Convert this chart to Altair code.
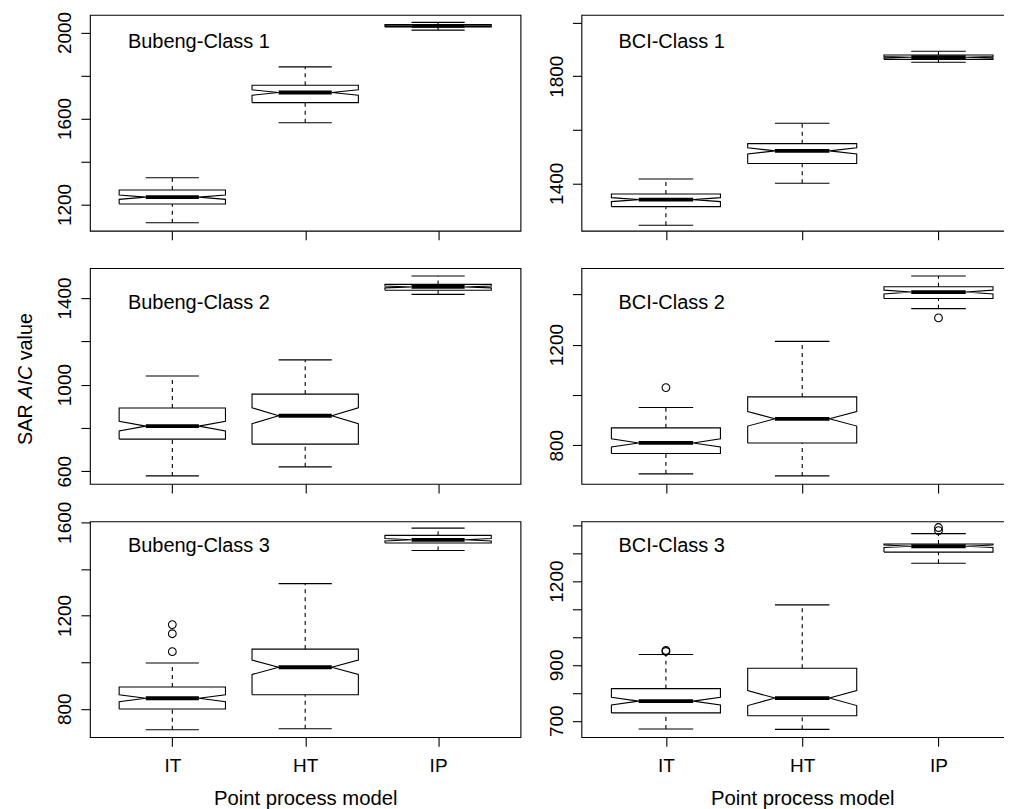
import json
import math
import altair as alt
import pandas as pd

# ---------------- data ----------------
panels = ["Bubeng-Class 1", "BCI-Class 1", "Bubeng-Class 2",
          "BCI-Class 2", "Bubeng-Class 3", "BCI-Class 3"]
models = ["IT", "HT", "IP"]
n_obs = 100  # simulations per model (sets notch width, R: 1.58*IQR/sqrt(n))

lower_whisker = [[1115, 1580, 2011], [1243, 1400, 1852], [578, 620, 1417],
                 [686, 678, 1343], [710, 714, 1479], [670, 669, 1264]]
lower_hinge = [[1202, 1674, 2026], [1313, 1474, 1863], [748, 725, 1436],
               [767, 809, 1383], [799, 860, 1511], [728, 718, 1304]]
medians = [[1234, 1721, 2031], [1339, 1521, 1871], [808, 856, 1451],
           [809, 905, 1409], [845, 978, 1525], [770, 781, 1325]]
upper_hinge = [[1267, 1755, 2037], [1360, 1548, 1879], [892, 956, 1463],
               [869, 992, 1430], [893, 1056, 1544], [815, 888, 1333]]
upper_whisker = [[1324, 1840, 2047], [1416, 1624, 1893], [1040, 1114, 1502],
                 [950, 1213, 1473], [996, 1337, 1575], [937, 1115, 1370]]
outlier_panel = [3, 3, 4, 4, 4, 5, 5, 5, 5]
outlier_model = [0, 2, 0, 0, 0, 0, 0, 2, 2]
outlier_value = [1029, 1306, 1161, 1122, 1045, 948, 952, 1392, 1381]

y_domains = [[1078, 2082], [1223, 2029], [541, 1538],
             [646, 1504], [678, 1604], [641, 1414]]
x_domain = [0.38, 3.62]
y_ticks = [[1200, 1400, 1600, 1800, 2000], [1400, 1600, 1800, 2000],
           [600, 800, 1000, 1200, 1400], [800, 1000, 1200, 1400],
           [800, 1000, 1200, 1400, 1600],
           [700, 800, 900, 1000, 1100, 1200, 1300, 1400]]
y_labels = [[1200, 1600, 2000], [1400, 1800], [600, 1000, 1400],
            [800, 1200], [800, 1200, 1600], [700, 900, 1200]]
x_title = "Point process model"
y_title_parts = ["SAR", "AIC", "value"]

# ---------------- styling ----------------
FONT = "Liberation Sans"
FS = 19
TFS = 20.3
YFS = 19.8
PH = 216
PANEL_W = [431, 442]   # right-hand panels run past the picture's right edge
label_y = [32.7, 32.7, 41, 40.7, 30.7, 30.7]
BOXW = 0.4
NOTCH = 0.5
STAPLE = 0.2


def panel(idx):
    row, col = idx // 2, idx % 2
    bottom = row == 2
    box_pts, whisk = [], []
    for i, m in enumerate(models):
        x = i + 1
        q1, md, q3 = lower_hinge[idx][i], medians[idx][i], upper_hinge[idx][i]
        half = 1.58 * (q3 - q1) / math.sqrt(n_obs)
        lo, hi = md - half, md + half
        xs_ = [x - BOXW, x + BOXW, x + BOXW, x + BOXW * NOTCH, x + BOXW, x + BOXW,
               x - BOXW, x - BOXW, x - BOXW * NOTCH, x - BOXW, x - BOXW]
        ys_ = [q1, q1, lo, md, hi, q3, q3, hi, md, lo, q1]
        for k, (a, b) in enumerate(zip(xs_, ys_)):
            box_pts.append({"model": m, "k": k, "x": a, "y": b})
        whisk.append({"model": m, "x": x, "xl": x - STAPLE, "xr": x + STAPLE,
                      "lw": lower_whisker[idx][i], "q1": q1, "med": md, "q3": q3,
                      "uw": upper_whisker[idx][i]})
    box_df = pd.DataFrame(box_pts)
    wdf = pd.DataFrame(whisk)
    out = [{"x": outlier_model[j] + 1, "v": outlier_value[j]}
           for j in range(len(outlier_value)) if outlier_panel[j] == idx]

    xscale = alt.Scale(domain=x_domain, nice=False, zero=False)
    yscale = alt.Scale(domain=y_domains[idx], nice=False, zero=False)
    xaxis = alt.Axis(values=[1, 2, 3],
                     labelExpr=json.dumps(models) + "[round(datum.value) - 1]",
                     labels=bottom, title=x_title if bottom else None,
                     tickSize=9, domain=False, grid=False, labelFontSize=FS,
                     labelPadding=10.6, titleFontSize=TFS, titleFontWeight="normal",
                     titlePadding=13, labelFlush=False, labelOverlap=False)
    yaxis = alt.Axis(values=y_ticks[idx], format="d",
                     labelExpr="indexof(" + json.dumps(y_labels[idx]) +
                               ", datum.value) >= 0 ? datum.label : ''",
                     labelAngle=270, labelAlign="center", labelBaseline="alphabetic",
                     labelPadding=10, tickSize=9, domain=False, grid=False,
                     labelFontSize=FS, title=None, labelFlush=False,
                     labelOverlap=False)

    def X(f):
        return alt.X(f, type="quantitative", scale=xscale, axis=xaxis)

    def Y(f):
        return alt.Y(f, type="quantitative", scale=yscale, axis=yaxis)

    layers = []
    layers.append(alt.Chart(box_df).mark_line(color="black", strokeWidth=1.1).encode(
        x=X("x"), y=Y("y"), detail="model:N", order="k:Q"))
    dash = [4, 4]
    layers.append(alt.Chart(wdf).mark_rule(color="black", strokeWidth=1.1, strokeDash=dash)
                  .encode(x=X("x"), y=Y("q3"), y2="uw"))
    layers.append(alt.Chart(wdf).mark_rule(color="black", strokeWidth=1.1, strokeDash=dash)
                  .encode(x=X("x"), y=Y("lw"), y2="q1"))
    layers.append(alt.Chart(wdf).mark_rule(color="black", strokeWidth=1.1)
                  .encode(x=X("xl"), x2="xr", y=Y("uw")))
    layers.append(alt.Chart(wdf).mark_rule(color="black", strokeWidth=1.1)
                  .encode(x=X("xl"), x2="xr", y=Y("lw")))
    layers.append(alt.Chart(wdf).mark_rule(color="black", strokeWidth=3.8)
                  .encode(x=X("xl"), x2="xr", y=Y("med")))
    if out:
        layers.append(alt.Chart(pd.DataFrame(out)).mark_point(
            shape="circle", filled=False, color="black", size=60, strokeWidth=1.1,
            opacity=1).encode(x=X("x"), y=Y("v")))
    layers.append(alt.Chart(pd.DataFrame({"t": [panels[idx]]})).mark_text(
        align="left", baseline="alphabetic", fontSize=20, font=FONT, color="black"
    ).encode(text="t:N", x=alt.value(38 if col == 0 else 37), y=alt.value(label_y[idx])))
    if idx == 2:
        sp = 0.278 * YFS
        w_sar = (0.667 + 0.667 + 0.722) * YFS
        w_aic = (0.667 + 0.278 + 0.722) * YFS
        y0 = 177
        ystarts = [y0, y0 - w_sar - sp, y0 - w_sar - sp - w_aic - sp]
        styles = ["normal", "italic", "normal"]
        for part, ys0, st in zip(y_title_parts, ystarts, styles):
            layers.append(alt.Chart(pd.DataFrame({"t": [part]})).mark_text(
                align="left", baseline="alphabetic", angle=270, fontSize=YFS,
                font=FONT, fontStyle=st, color="black"
            ).encode(text="t:N", x=alt.value(-58), y=alt.value(ys0)))
    return alt.layer(*layers).properties(width=PANEL_W[col], height=PH)


chart = alt.concat(*[panel(i) for i in range(6)], columns=2,
                   spacing={"row": 37.5, "column": 61}, bounds="flush") \
    .properties(padding={"left": 7, "top": 1.5, "right": -20, "bottom": 0}) \
    .configure_view(stroke="black", strokeWidth=1.1) \
    .configure_axis(labelFont=FONT, titleFont=FONT, labelColor="black",
                    titleColor="black", tickColor="black", tickWidth=1.1) \
    .configure_text(font=FONT)

chart.save("out.html", embed_options={"renderer": "svg", "actions": False})
